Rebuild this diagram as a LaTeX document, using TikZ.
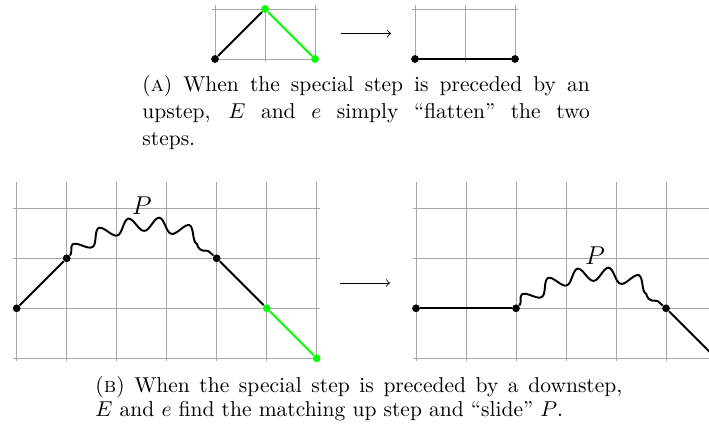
\documentclass[tikz,border=0pt]{standalone}
\usetikzlibrary{decorations.pathmorphing}
\begin{document}
\begin{tikzpicture}[x=0.465pt,y=-0.465pt,
  gridline/.style={draw=gray!70, line width=0.45pt, step=23.25pt},
  dotblack/.style={circle, fill=black, inner sep=0pt, minimum size=3.6pt},
  dotgreen/.style={circle, fill=green, inner sep=0pt, minimum size=3.6pt},
  stepline/.style={line width=0.9pt, draw=black},
  greenline/.style={line width=0.9pt, draw=green},
  wavy/.style={line width=0.9pt, decorate, decoration={snake, amplitude=3.2pt, segment length=13.6pt}},
  maparrow/.style={->, line width=0.4pt},
  captiontext/.style={anchor=north west, inner sep=0pt, align=justify, font=\normalsize},
  plabel/.style={font=\large, inner sep=0pt}]
\useasboundingbox (0,0) rectangle (709,424);
\clip (0,0) rectangle (709,424);

% ---- (A) left
\begin{scope}[shift={(215,59)}, x=23.25pt, y=23.25pt]
  \draw[gridline] (-0.06,-0.06) grid (2.06,1.07);
  \node[dotblack] (a0) at (0,0) {};
  \node[dotgreen] (a1) at (1,1) {};
  \node[dotgreen] (a2) at (2,0) {};
  \draw[stepline] (a0) -- (a1);
  \draw[greenline] (a1) -- (a2);
\end{scope}
% ---- (A) right
\begin{scope}[shift={(415,59)}, x=23.25pt, y=23.25pt]
  \draw[gridline] (-0.06,-0.06) grid (2.06,1.07);
  \node[dotblack] (c0) at (0,0) {};
  \node[dotblack] (c2) at (2,0) {};
  \draw[stepline] (c0) -- (c2);
\end{scope}
\coordinate (arA1) at (341,33.5);
\coordinate (arA2) at (391,33.5);
\draw[maparrow] (arA1) -- (arA2);

\node[captiontext, text width=208pt] (capA) at (142,75.4)
 {\baselineskip=12.4pt (\textsc{a}) When the special step is preceded by an\linebreak upstep, $E$ and $e$ simply “flatten” the two\linebreak steps.\par};

% ---- (B) left
\begin{scope}[shift={(16.7,358.3)}, x=23.25pt, y=23.25pt]
  \draw[gridline] (-0.07,-0.06) grid (6.07,3.52);
  \node[dotblack] (b0) at (0,1) {};
  \node[dotblack] (b1) at (1,2) {};
  \node[dotblack] (b4) at (4,2) {};
  \node[dotgreen] (b5) at (5,1) {};
  \node[dotgreen] (b6) at (6,0) {};
  \draw[stepline] (b0) -- (b1);
  \draw[wavy] (b1) to[out=40,in=140] (b4);
  \draw[stepline] (b4) -- (b5);
  \draw[greenline] (b5) -- (b6);
  \node[plabel] (pb) at (2.5,3.05) {$P$};
\end{scope}
% ---- (B) right
\begin{scope}[shift={(416,358.3)}, x=23.25pt, y=23.25pt]
  \draw[gridline] (-0.07,-0.06) grid (6.6,3.52);
  \node[dotblack] (d0) at (0,1) {};
  \node[dotblack] (d2) at (2,1) {};
  \node[dotblack] (d5) at (5,1) {};
  \coordinate (d6) at (6,0);
  \draw[stepline] (d0) -- (d2);
  \draw[wavy] (d2) to[out=40,in=140] (d5);
  \draw[stepline] (d5) -- (d6);
  \node[plabel] (pd) at (3.58,2.05) {$P$};
\end{scope}
\coordinate (arB1) at (340,283);
\coordinate (arB2) at (390,283);
\draw[maparrow] (arB1) -- (arB2);

\node[captiontext, text width=245pt] (capB) at (95,375.6)
 {\baselineskip=11.2pt (\textsc{b}) When the special step is preceded by a downstep,\linebreak $E$ and $e$ find the matching up step and “slide” $P$.\par};
\end{tikzpicture}
\end{document}
